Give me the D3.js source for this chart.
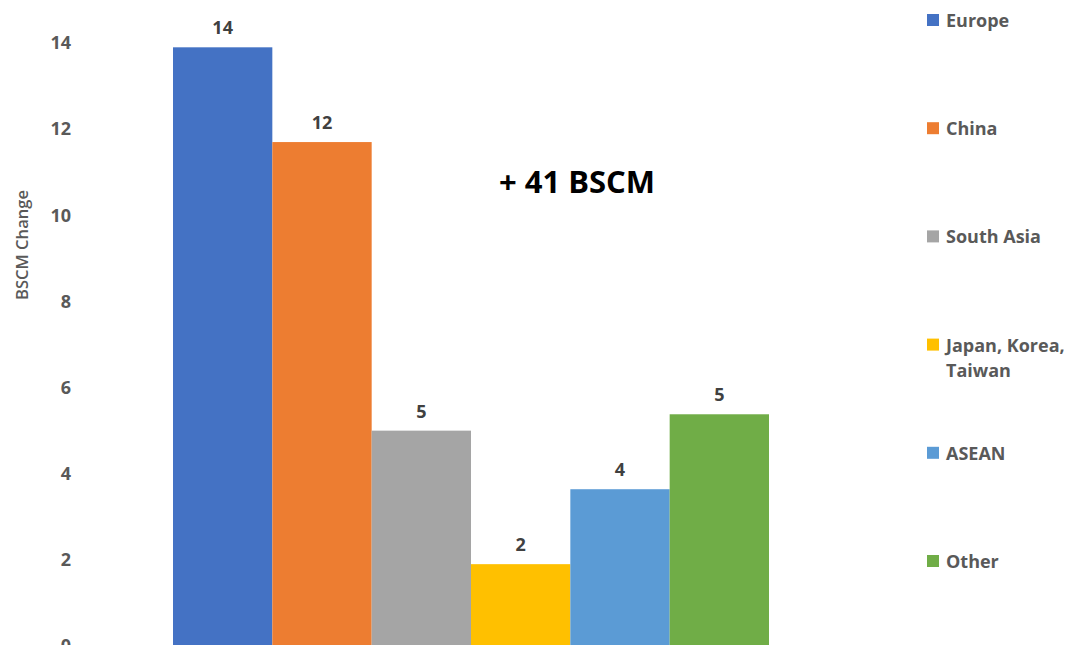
<!DOCTYPE html>
<html>
<head>
<meta charset="utf-8">
<script src="https://cdn.jsdelivr.net/npm/d3@7/dist/d3.min.js"></script>
<style>
  html, body { margin: 0; padding: 0; background: #fff; }
  svg { display: block; }
  text { font-family: "Open Sans", "Noto Sans", sans-serif; }
</style>
</head>
<body>
<svg id="chart" width="1072" height="645"></svg>
<script>
// Regional contribution to demand growth (BSCM)
const regions = ["Europe", "China", "South Asia", "Japan, Korea, Taiwan", "ASEAN", "Other"];
const changes = [13.9, 11.7, 5.0, 1.9, 3.64, 5.38];
const colors = ["#4472C4", "#ED7D31", "#A5A5A5", "#FFC000", "#5B9BD5", "#70AD47"];
const yTicks = [0, 2, 4, 6, 8, 10, 12, 14];
const legendLines = [["Europe"], ["China"], ["South Asia"], ["Japan, Korea,", "Taiwan"], ["ASEAN"], ["Other"]];
const totalLabel = "+ 41 BSCM";

const svg = d3.select("#chart");

const y = d3.scaleLinear().domain([0, 14]).range([646, 43]);
const x = d3.scaleBand().domain(regions).range([173, 769]).padding(0);

// Y axis: tick labels only
const yAxis = d3.axisLeft(y).tickValues(yTicks).tickSize(0).tickPadding(0).tickFormat(d3.format("d"));
const gy = svg.append("g").attr("transform", "translate(71,0)").call(yAxis);
gy.select(".domain").remove();
gy.selectAll("text")
  .attr("fill", "#595959")
  .style("font-size", "18px")
  .style("font-weight", "700");

// Axis title
svg.append("text")
  .attr("transform", "translate(21,245) rotate(-90)")
  .attr("text-anchor", "middle")
  .attr("dominant-baseline", "central")
  .attr("fill", "#595959")
  .style("font-size", "16.5px")
  .style("font-weight", "600")
  .attr("textLength", 110)
  .text("BSCM Change");

// Bars
svg.append("g").selectAll("rect")
  .data(regions)
  .join("rect")
  .attr("x", d => x(d))
  .attr("width", x.bandwidth())
  .attr("y", (d, i) => y(changes[i]))
  .attr("height", (d, i) => y(0) - y(changes[i]))
  .attr("fill", (d, i) => colors[i]);

// Value labels above bars
svg.append("g").selectAll("text")
  .data(regions)
  .join("text")
  .attr("x", d => x(d) + x.bandwidth() / 2)
  .attr("y", (d, i) => y(changes[i]) - 20)
  .attr("text-anchor", "middle")
  .attr("dominant-baseline", "central")
  .attr("fill", "#404040")
  .style("font-size", "18px")
  .style("font-weight", "700")
  .text((d, i) => d3.format(".0f")(changes[i]));

// Total annotation
svg.append("text")
  .attr("x", 577)
  .attr("y", 181)
  .attr("text-anchor", "middle")
  .attr("dominant-baseline", "central")
  .attr("fill", "#000")
  .style("font-size", "31px")
  .style("font-weight", "700")
  .text(totalLabel);

// Legend
const legendY = d3.scalePoint().domain(regions).range([20, 561]);
const lg = svg.append("g").selectAll("g")
  .data(regions)
  .join("g")
  .attr("transform", d => `translate(927,${legendY(d)})`);
lg.append("rect")
  .attr("x", 0).attr("y", -6)
  .attr("width", 12).attr("height", 12)
  .attr("fill", (d, i) => colors[i]);
lg.append("text")
  .attr("fill", "#595959")
  .style("font-size", "18px")
  .style("font-weight", "700")
  .selectAll("tspan")
  .data((d, i) => legendLines[i])
  .join("tspan")
  .attr("x", 19)
  .attr("y", (t, j) => j * 25)
  .attr("dominant-baseline", "central")
  .text(t => t);
</script>
</body>
</html>
